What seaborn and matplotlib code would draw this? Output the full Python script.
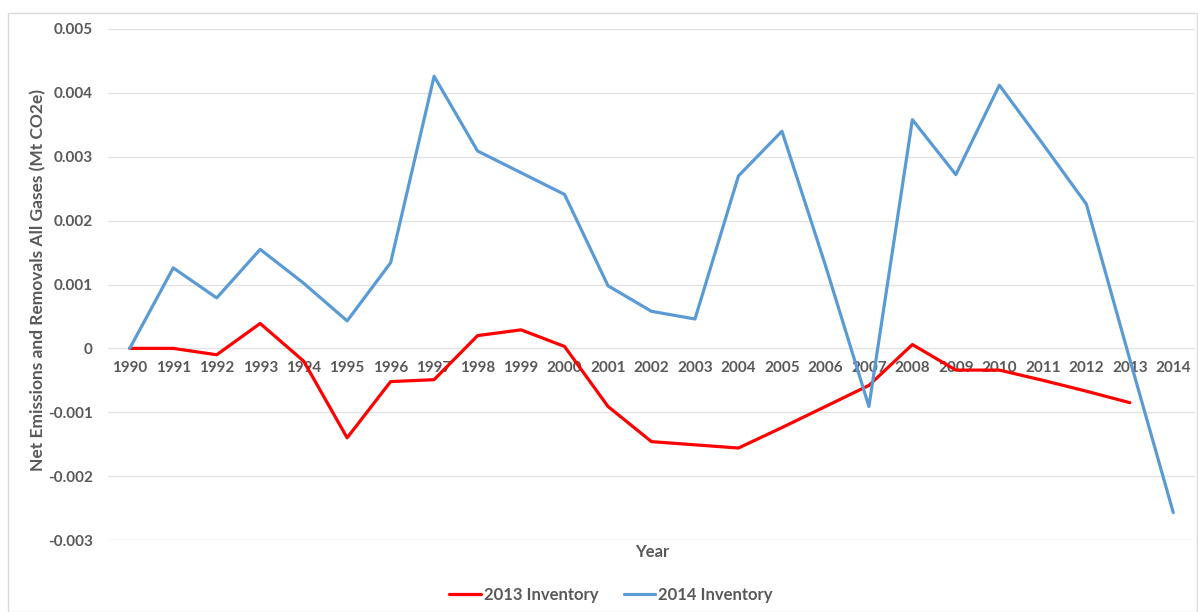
import matplotlib
matplotlib.use("Agg")
import matplotlib.pyplot as plt
from matplotlib.lines import Line2D
from matplotlib.patches import Rectangle
import numpy as np
import pandas as pd
import seaborn as sns

years = list(range(1990, 2015))

inventory_2013 = [0.0, 0.0, -0.0001, 0.00039, -0.0002, -0.0014, -0.00052, -0.00049,
                  0.0002, 0.00029, 0.00003, -0.00091, -0.00146, -0.00151, -0.00156,
                  -0.00124, -0.00091, -0.00058, 0.00006, -0.00034, -0.00034, -0.0005,
                  -0.00067, -0.00085, np.nan]

inventory_2014 = [0.0, 0.00126, 0.00079, 0.00155, 0.00102, 0.00043, 0.00134, 0.00426,
                  0.00309, 0.00275, 0.00241, 0.00098, 0.00058, 0.00046, 0.0027,
                  0.0034, 0.0013, -0.00091, 0.00358, 0.00272, 0.00412, 0.0032,
                  0.00226, -0.00017, -0.00257]

series_names = ["2013 Inventory", "2014 Inventory"]
series_colors = ["#FF0000", "#5B9BD5"]

y_ticks = [-0.003, -0.002, -0.001, 0, 0.001, 0.002, 0.003, 0.004, 0.005]
y_tick_labels = ["-0.003", "-0.002", "-0.001", "0", "0.001", "0.002", "0.003", "0.004", "0.005"]

y_title = "Net Emissions and Removals All Gases (Mt CO2e)"
x_title = "Year"

df = pd.DataFrame({
    "Year": years * 2,
    "Value": inventory_2013 + inventory_2014,
    "Series": [series_names[0]] * len(years) + [series_names[1]] * len(years),
})

sns.set_theme(style="white")
plt.rcParams["font.family"] = ["Lato", "DejaVu Sans"]
text_color = "#595959"

fig = plt.figure(figsize=(11.98, 6.12), dpi=100)
fig.patch.set_facecolor("white")
fig.patches.append(Rectangle((8 / 1198, 0), 1 - 9 / 1198, 1 - 13 / 612,
                             transform=fig.transFigure, fill=False,
                             edgecolor="#D9D9D9", linewidth=1.0))

ax = fig.add_axes([108 / 1198, 1 - 540 / 612, (1195 - 108) / 1198, (540 - 29) / 612])

sns.lineplot(data=df, x="Year", y="Value", hue="Series", hue_order=series_names,
             palette=series_colors, linewidth=2.3, legend=False, ax=ax, zorder=3)

ax.set_xlim(1989.5, 2014.5)
ax.set_ylim(-0.003, 0.005)
ax.set_yticks(y_ticks)
ax.set_yticklabels(y_tick_labels)
ax.set_xticks(years)
ax.set_xticklabels([str(y) for y in years])

ax.yaxis.grid(True, color="#E3E3E3", linewidth=1.0)
ax.xaxis.grid(False)
ax.set_axisbelow(True)
for side in ["left", "right", "top"]:
    ax.spines[side].set_visible(False)
ax.spines["bottom"].set_position(("data", 0))
ax.spines["bottom"].set_visible(False)

ax.tick_params(axis="x", length=0, pad=9, labelsize=11, labelcolor=text_color)
ax.tick_params(axis="y", length=0, pad=11, labelsize=11, labelcolor=text_color)
for lab in ax.get_xticklabels() + ax.get_yticklabels():
    lab.set_fontweight("bold")

ax.set_xlabel("")
ax.set_ylabel("")
fig.text(38 / 1198, 1 - 280 / 612, y_title, rotation=90, ha="center", va="center",
         fontsize=12.5, fontweight="bold", color=text_color)
fig.text(652 / 1198, 1 - 552 / 612, x_title, ha="center", va="center",
         fontsize=12, fontweight="bold", color=text_color)

handles = [Line2D([0], [0], color=c, linewidth=2.3) for c in series_colors]
leg = fig.legend(handles, series_names, loc="center", bbox_to_anchor=(611 / 1198, 1 - 595 / 612),
                 ncol=2, frameon=False, handlelength=1.9, handletextpad=0.2,
                 columnspacing=1.5, prop={"size": 12, "weight": "bold"})
for t in leg.get_texts():
    t.set_color(text_color)

fig.savefig("out.png", dpi=100, facecolor="white")
